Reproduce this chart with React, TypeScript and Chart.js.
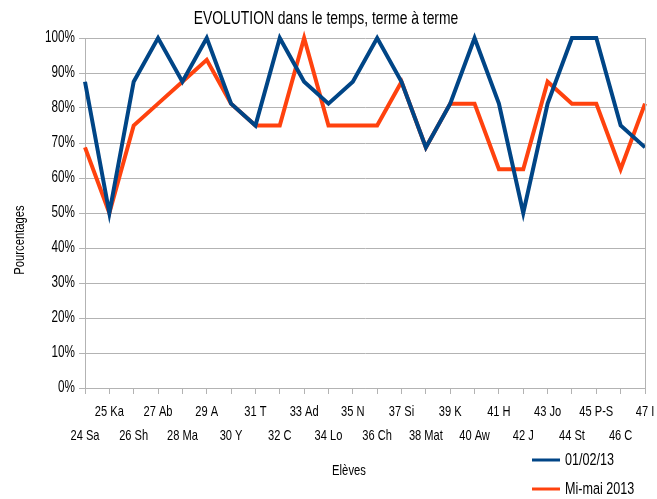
import React, { useEffect, useRef } from "react";
import { Chart, registerables } from "chart.js";

Chart.register(...registerables);

const students = [
  "24 Sa", "25 Ka", "26 Sh", "27 Ab", "28 Ma", "29 A", "30 Y", "31 T",
  "32 C", "33 Ad", "34 Lo", "35 N", "36 Ch", "37 Si", "38 Mat", "39 K",
  "40 Aw", "41 H", "42 J", "43 Jo", "44 St", "45 P-S", "46 C", "47 I",
];
const seriesFeb = [
  87.5, 50, 87.5, 100, 87.5, 100, 81.25, 75, 100, 87.5, 81.25, 87.5,
  100, 87.5, 68.75, 81.25, 100, 81.25, 50, 81.25, 100, 100, 75, 68.75,
];
const seriesMay = [
  68.75, 50, 75, 81.25, 87.5, 93.75, 81.25, 75, 75, 100, 75, 75,
  75, 87.5, 68.75, 81.25, 81.25, 62.5, 62.5, 87.5, 81.25, 81.25, 62.5, 81.25,
];
const seriesNames = ["01/02/13", "Mi-mai 2013"];
const seriesColors = ["#004586", "#ff420e"];
const titleText = "EVOLUTION dans le temps, terme à terme";
const xTitle = "Elèves";
const yTitle = "Pourcentages";

const FONT = "'Liberation Sans', Arial, sans-serif";
const GRID = "#b3b3b3";
const SQUEEZE = 0.75;

function narrowText(
  ctx: CanvasRenderingContext2D,
  text: string,
  x: number,
  y: number,
  size: number,
  align: CanvasTextAlign,
  rotate = 0
) {
  ctx.save();
  ctx.translate(x, y);
  if (rotate) ctx.rotate(rotate);
  ctx.scale(SQUEEZE, 1);
  ctx.font = `${size}px ${FONT}`;
  ctx.textAlign = align;
  ctx.textBaseline = "middle";
  ctx.fillStyle = "#000";
  ctx.fillText(text, 0, 0);
  ctx.restore();
}

const decorPlugin = {
  id: "decor",
  afterDraw(chart: any) {
    const ctx = chart.ctx as CanvasRenderingContext2D;
    const area = chart.chartArea;
    ctx.save();
    // right border of plot area
    ctx.strokeStyle = GRID;
    ctx.lineWidth = 1;
    ctx.beginPath();
    ctx.moveTo(Math.round(area.right) + 0.5, area.top);
    ctx.lineTo(Math.round(area.right) + 0.5, area.bottom);
    ctx.stroke();

    // tick labels (condensed)
    const ys = chart.scales.y;
    ys.ticks.forEach((t: any) => {
      narrowText(ctx, `${t.value}%`, 75, ys.getPixelForValue(t.value), 15.6, "right");
    });
    const xs = chart.scales.x;
    students.forEach((s, i) => {
      const px = xs.getPixelForValue(i);
      const py = i % 2 === 1 ? 412 : 436;
      narrowText(ctx, s, px, py, 14.8, "center");
    });

    narrowText(ctx, titleText, 326, 19, 18.5, "center");
    narrowText(ctx, xTitle, 349, 471, 15, "center");
    narrowText(ctx, yTitle, 20, 240, 15, "center", -Math.PI / 2);

    // legend
    const ly = [460, 489];
    seriesNames.forEach((name, i) => {
      ctx.strokeStyle = seriesColors[i];
      ctx.lineWidth = 3;
      ctx.beginPath();
      ctx.moveTo(532, ly[i]);
      ctx.lineTo(560, ly[i]);
      ctx.stroke();
      narrowText(ctx, name, 565, ly[i], 16.8, "left");
    });
    ctx.restore();
  },
};

export default function App() {
  const ref = useRef<HTMLCanvasElement>(null);
  useEffect(() => {
    if (!ref.current) return;
    const chart = new Chart(ref.current, {
      type: "line",
      data: {
        labels: students,
        datasets: [
          {
            label: seriesNames[0],
            data: seriesFeb,
            borderColor: seriesColors[0],
            backgroundColor: seriesColors[0],
            borderWidth: 4,
            pointRadius: 0,
            tension: 0,
            clip: false as any,
          },
          {
            label: seriesNames[1],
            data: seriesMay,
            borderColor: seriesColors[1],
            backgroundColor: seriesColors[1],
            borderWidth: 4,
            pointRadius: 0,
            tension: 0,
            clip: false as any,
          },
        ],
      },
      options: {
        responsive: false,
        animation: false,
        layout: { padding: { top: 38, right: 12, bottom: 0, left: 0 } },
        plugins: {
          legend: { display: false },
          title: { display: false },
          tooltip: { enabled: false },
        },
        scales: {
          x: {
            type: "category",
            offset: false,
            afterFit: (s: any) => {
              s.height = 111;
            },
            grid: {
              drawOnChartArea: false,
              drawTicks: true,
              tickLength: 6,
              color: GRID,
            },
            border: { color: GRID },
            ticks: {
              display: false,
              autoSkip: false,
              maxRotation: 0,
              minRotation: 0,
            },
          },
          y: {
            min: 0,
            max: 100,
            afterFit: (s: any) => {
              s.width = 85;
            },
            grid: { color: GRID, tickLength: 6 },
            border: { color: GRID },
            ticks: {
              display: false,
              stepSize: 10,
            },
          },
        },
      },
      plugins: [decorPlugin],
    });
    return () => chart.destroy();
  }, []);
  return (
    <div style={{ position: "absolute", left: 0, top: 0, width: 657, height: 499, background: "#fff" }}>
      <canvas ref={ref} width={657} height={499} style={{ display: "block" }} />
    </div>
  );
}
